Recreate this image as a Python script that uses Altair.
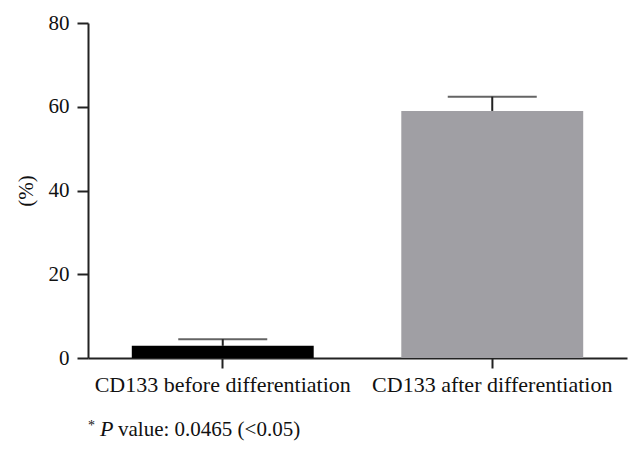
import altair as alt
import pandas as pd

categories = ["CD133 before differentiation", "CD133 after differentiation"]
means = [2.9, 59.0]
uppers = [4.5, 62.4]
colors = ["#000000", "#a09fa4"]
y_ticks = [0, 20, 40, 60, 80]

df = pd.DataFrame({"cat": categories, "mean": means, "upper": uppers})

FONT = "Liberation Serif"
FS = 22
W, H = 539, 335

x = alt.X(
    "cat:N",
    sort=categories,
    title=None,
    scale=alt.Scale(paddingInner=0.325, paddingOuter=0.1625),
    axis=alt.Axis(
        labelAngle=0, labelFont=FONT, labelFontSize=FS, labelColor="#111",
        labelLimit=0,
        domainColor="#222", domainWidth=2, tickColor="#222", tickWidth=2,
        tickSize=10, labelPadding=6,
    ),
)

bars = alt.Chart(df).mark_bar().encode(
    x=x,
    y=alt.Y(
        "mean:Q",
        title="(%)",
        scale=alt.Scale(domain=[0, 80], nice=False),
        axis=alt.Axis(
            values=y_ticks, grid=False, labelFont=FONT, labelFontSize=21,
            labelColor="#111", titleFont=FONT, titleFontSize=21,
            titleFontWeight="normal", titleColor="#111", titlePadding=12,
            domainColor="#222", domainWidth=2, tickColor="#222", tickWidth=2,
            tickSize=11, labelPadding=8,
        ),
    ),
    color=alt.Color("cat:N", sort=categories,
                    scale=alt.Scale(domain=categories, range=colors), legend=None),
)

rules = alt.Chart(df).mark_rule(color="#222", strokeWidth=2).encode(
    x=alt.X("cat:N", sort=categories), y="mean:Q", y2="upper:Q"
)

caps = alt.Chart(df).mark_tick(color="#222", thickness=2, size=89).encode(
    x=alt.X("cat:N", sort=categories), y="upper:Q"
)

foot_df = pd.DataFrame({"a": [1]})
star = alt.Chart(foot_df).mark_text(
    text="*", font=FONT, fontSize=14, align="left", baseline="alphabetic", color="#111"
).encode(x=alt.value(0), y=alt.value(H + 72))
pit = alt.Chart(foot_df).mark_text(
    text="P", font=FONT, fontSize=FS, fontStyle="italic", align="left",
    baseline="alphabetic", color="#111"
).encode(x=alt.value(12), y=alt.value(H + 78))
rest = alt.Chart(foot_df).mark_text(
    text="value: 0.0465 (<0.05)", font=FONT, fontSize=21, align="left",
    baseline="alphabetic", color="#111"
).encode(x=alt.value(30), y=alt.value(H + 78))

chart = alt.layer(bars, rules, caps, star, pit, rest).properties(
    width=W, height=H,
    autosize=alt.AutoSizeParams(type="none"),
    padding={"left": 80, "top": 15, "right": 6, "bottom": 87},
).configure_view(stroke=None)

chart.save("out.html", embed_options={"renderer": "svg", "actions": False})
